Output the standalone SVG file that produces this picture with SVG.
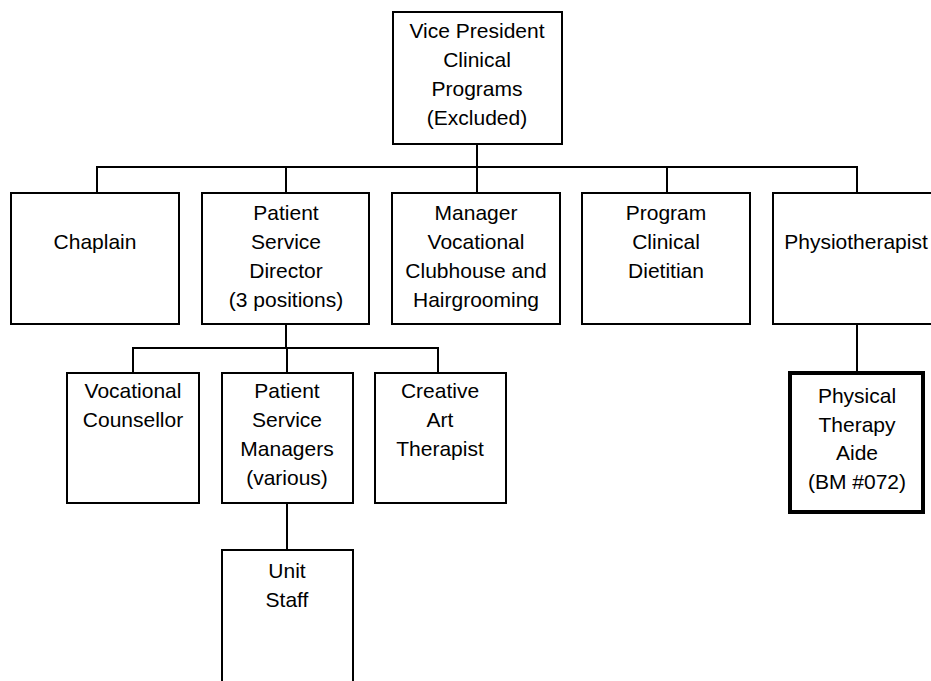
<svg xmlns="http://www.w3.org/2000/svg" width="931" height="681" viewBox="0 0 931 681">
<style>
.box{fill:#fff;stroke:#000;stroke-width:2}
.thick{fill:#fff;stroke:#000;stroke-width:4}
.ln{stroke:#000;stroke-width:2;fill:none}
text{font-family:"Liberation Sans",Arial,sans-serif;font-size:21px;fill:#000;text-anchor:middle}
</style>
<rect width="931" height="681" fill="#fff"/>
<g id="connectors">
<path class="ln" d="M477 144V167M97 167H857M97 166V193M286 166V193M477 166V193M667 166V193M857 166V193"/>
<path class="ln" d="M286 324V348M133 348H438M133 347V373M287 347V373M438 347V373"/>
<path class="ln" d="M287 503V550"/>
<path class="ln" d="M857 324V373"/>
</g>
<g id="vp">
<rect class="box" x="393" y="12" width="169" height="132"/>
<text x="477" y="38">Vice President</text>
<text x="477" y="67">Clinical</text>
<text x="477" y="96">Programs</text>
<text x="477" y="125">(Excluded)</text>
</g>
<g id="chaplain">
<rect class="box" x="11" y="193" width="168" height="131"/>
<text x="95" y="249">Chaplain</text>
</g>
<g id="psd">
<rect class="box" x="202" y="193" width="167" height="131"/>
<text x="286" y="220">Patient</text>
<text x="286" y="249">Service</text>
<text x="286" y="278">Director</text>
<text x="286" y="307">(3 positions)</text>
</g>
<g id="manager">
<rect class="box" x="392" y="193" width="168" height="131"/>
<text x="476" y="220">Manager</text>
<text x="476" y="249">Vocational</text>
<text x="476" y="278">Clubhouse and</text>
<text x="476" y="307">Hairgrooming</text>
</g>
<g id="program">
<rect class="box" x="582" y="193" width="168" height="131"/>
<text x="666" y="220">Program</text>
<text x="666" y="249">Clinical</text>
<text x="666" y="278">Dietitian</text>
</g>
<g id="physio">
<rect class="box" x="773" y="193" width="168" height="131"/>
<text x="856" y="249">Physiotherapist</text>
</g>
<g id="vocational">
<rect class="box" x="67" y="373" width="132" height="130"/>
<text x="133" y="398">Vocational</text>
<text x="133" y="427">Counsellor</text>
</g>
<g id="psm">
<rect class="box" x="222" y="373" width="131" height="130"/>
<text x="287" y="398">Patient</text>
<text x="287" y="427">Service</text>
<text x="287" y="456">Managers</text>
<text x="287" y="485">(various)</text>
</g>
<g id="creative">
<rect class="box" x="375" y="373" width="131" height="130"/>
<text x="440" y="398">Creative</text>
<text x="440" y="427">Art</text>
<text x="440" y="456">Therapist</text>
</g>
<g id="aide">
<rect class="thick" x="790" y="373" width="133" height="139"/>
<text x="857" y="403">Physical</text>
<text x="857" y="432">Therapy</text>
<text x="857" y="460">Aide</text>
<text x="857" y="489">(BM #072)</text>
</g>
<g id="unitstaff">
<rect class="box" x="222" y="550" width="131" height="150"/>
<text x="287" y="578">Unit</text>
<text x="287" y="607">Staff</text>
</g>
</svg>
